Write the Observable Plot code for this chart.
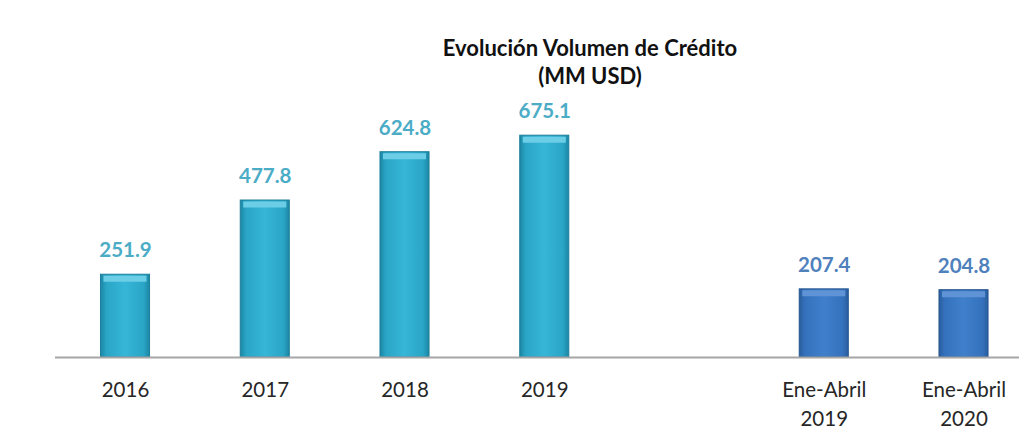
<!DOCTYPE html>
<html>
<head>
<meta charset="utf-8">
<script src="https://cdn.jsdelivr.net/npm/d3@7"></script>
<script src="https://cdn.jsdelivr.net/npm/@observablehq/plot@0.6"></script>
<style>
  html, body { margin: 0; padding: 0; background: #ffffff; }
  #wrap { width: 1019px; height: 430px; overflow: hidden; position: relative; }
  #title { height: 95px; box-sizing: border-box; padding-top: 34px; padding-left: 161px;
           font-family: Lato, "Open Sans", sans-serif; font-weight: 700; font-size: 22px;
           line-height: 28px; text-align: center; color: #111111; }
</style>
</head>
<body>
<div id="wrap">
  <div id="title">Evolución Volumen de Crédito<br>(MM USD)</div>
  <div id="chart"></div>
</div>
<script>
const categories = ["2016", "2017", "2018", "2019", "", "Ene-Abril\n2019", "Ene-Abril\n2020"];
const barCategories = ["2016", "2017", "2018", "2019", "Ene-Abril\n2019", "Ene-Abril\n2020"];
const values = [251.9, 477.8, 624.8, 675.1, 207.4, 204.8];
const groups = ["anual", "anual", "anual", "anual", "parcial", "parcial"];

const data = barCategories.map((c, i) => ({cat: c, value: values[i], group: groups[i]}));
const anual = data.filter(d => d.group === "anual");
const parcial = data.filter(d => d.group === "parcial");

const chart = Plot.plot({
  width: 1019,
  height: 335,
  marginLeft: 55,
  marginRight: 0,
  marginTop: 32,
  marginBottom: 73,
  style: {background: "transparent", fontFamily: "Lato, 'Open Sans', sans-serif"},
  x: {domain: categories, padding: 0.649, paddingOuter: 0.2735, align: 0.595, round: false, label: null},
  y: {domain: [0, 700], axis: null},
  marks: [
    Plot.barY(anual, {x: "cat", y: "value", fill: "url(#gTeal)", stroke: "#1d7f9b", strokeWidth: 1}),
    Plot.barY(parcial, {x: "cat", y: "value", fill: "url(#gBlue)", stroke: "#24548f", strokeWidth: 1}),
    Plot.tickY(anual, {x: "cat", y: "value", stroke: "#6ccde6", strokeWidth: 6, dy: 4, insetLeft: 3, insetRight: 3}),
    Plot.tickY(parcial, {x: "cat", y: "value", stroke: "#5f93d6", strokeWidth: 6, dy: 4, insetLeft: 3, insetRight: 3}),
    Plot.ruleY([0], {stroke: "#a6a6a6", strokeWidth: 2}),
    Plot.text(anual, {x: "cat", y: "value", text: d => d.value.toFixed(1), dy: -24, fill: "#4bacc6", fontWeight: "bold", fontSize: 20.5}),
    Plot.text(parcial, {x: "cat", y: "value", text: d => d.value.toFixed(1), dy: -24, fill: "#4f81bd", fontWeight: "bold", fontSize: 20.5}),
    Plot.axisX({tickSize: 0, tickPadding: 20, fontSize: 20.5, lineHeight: 1.37, fill: "#262626", label: null})
  ]
});

const svgNS = "http://www.w3.org/2000/svg";
const defs = document.createElementNS(svgNS, "defs");
function grad(id, stops) {
  const g = document.createElementNS(svgNS, "linearGradient");
  g.setAttribute("id", id);
  g.setAttribute("x1", "0"); g.setAttribute("x2", "1"); g.setAttribute("y1", "0"); g.setAttribute("y2", "0");
  stops.forEach(([o, c]) => {
    const s = document.createElementNS(svgNS, "stop");
    s.setAttribute("offset", o); s.setAttribute("stop-color", c);
    g.appendChild(s);
  });
  defs.appendChild(g);
}
grad("gTeal", [["0", "#1b86a4"], ["0.12", "#2aa5c6"], ["0.5", "#36b6d8"], ["0.88", "#2aa5c6"], ["1", "#1b86a4"]]);
grad("gBlue", [["0", "#2a5e9e"], ["0.12", "#3572bd"], ["0.5", "#3f7fcb"], ["0.88", "#3572bd"], ["1", "#2a5e9e"]]);
chart.insertBefore(defs, chart.firstChild);

document.getElementById("chart").appendChild(chart);
</script>
</body>
</html>
